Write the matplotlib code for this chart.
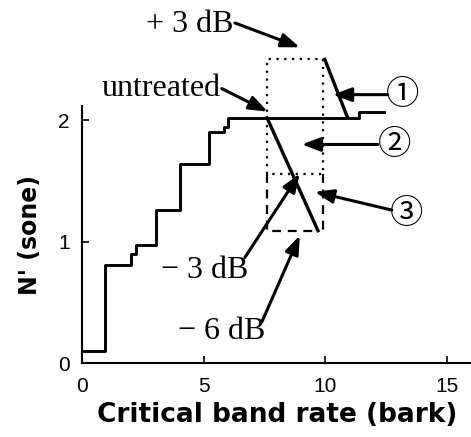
import numpy as np
import matplotlib.pyplot as plt

plt.close("all")

serif = "Liberation Serif"
circ_fonts = ["Noto Sans CJK JP", "DejaVu Sans"]

#%%
# 特定響度階梯 (untreated)
stair_x = [0, 0.95, 2.0, 2.2, 3.05, 4.0, 5.2, 5.85, 6.0, 11.4, 12.4]
stair_y = [0.10, 0.81, 0.90, 0.97, 1.26, 1.64, 1.90, 1.94, 2.02, 2.07, 2.07]

# 處理後的斜線
plus3_x = [9.98, 10.9]
plus3_y = [2.50, 2.03]
minus_x = [7.6, 9.7]
minus_y = [2.02, 1.09]

# 虛線框
dot_x = [7.6, 7.6, 9.9, 9.9, 7.6]
dot_y = [1.56, 2.50, 2.50, 1.56, 1.56]
dash_left_x = [7.6, 7.6, 9.7]
dash_left_y = [1.56, 1.09, 1.09]
dash_right_x = [9.9, 9.9]
dash_right_y = [1.56, 1.09]

xticks = [0, 5, 10, 15]
yticks = [0, 1, 2]

#%%
fig = plt.figure(figsize=(4.71, 4.37), dpi=100)
ax = fig.add_axes([0.175, 0.169, 0.825, 0.588])

ax.plot(stair_x, stair_y, drawstyle="steps-post", color="black", linewidth=2.1)
ax.plot(plus3_x, plus3_y, color="black", linewidth=2.4, clip_on=False)
ax.plot(minus_x, minus_y, color="black", linewidth=2.4)
ax.plot(dot_x, dot_y, color="black", linestyle=(0, (1, 2.5)), linewidth=1.6,
        clip_on=False)
ax.plot(dash_left_x, dash_left_y, color="black", linestyle=(0, (4, 3)), linewidth=1.6)
ax.plot(dash_right_x, dash_right_y, color="black", linestyle=(0, (4, 3)), linewidth=1.6)

ax.set_xlim(0, 16)
ax.set_ylim(0, 2.115)
ax.set_xticks(xticks)
ax.set_yticks(yticks)
ax.spines["top"].set_visible(False)
ax.spines["right"].set_visible(False)
ax.spines["left"].set_linewidth(1.5)
ax.spines["bottom"].set_linewidth(1.5)
ax.tick_params(direction="in", length=5, width=1.2, labelsize=15)
ax.tick_params(axis="x", pad=10)
ax.tick_params(axis="y", pad=9)
for lab in ax.get_xticklabels() + ax.get_yticklabels():
    lab.set_fontfamily("Liberation Sans")

ax.set_xlabel("Critical band rate (bark)", fontfamily="DejaVu Sans",
              fontweight="bold", fontsize=19, labelpad=4)
ax.set_ylabel("N' (sone)", fontfamily="DejaVu Sans",
              fontweight="bold", fontsize=17, labelpad=12)

#%%
# 文字與箭頭
arrow = dict(arrowstyle="-|>,head_length=0.8,head_width=0.3",
             color="black", linewidth=2.2, mutation_scale=14,
             shrinkA=0, shrinkB=0)

labels = [
    ("+ 3 dB", (4.42, 2.79), (6.28, 2.80), (8.95, 2.60), serif, 23),
    ("untreated", (3.23, 2.26), (5.74, 2.26), (7.63, 2.07), serif, 23),
    ("\u2460", (13.19, 2.21), (12.57, 2.21), (10.31, 2.21), circ_fonts, 24),
    ("\u2461", (12.86, 1.80), (12.16, 1.80), (9.03, 1.80), circ_fonts, 24),
    ("\u2462", (13.35, 1.23), (12.74, 1.26), (9.57, 1.41), circ_fonts, 24),
    ("\u2212 3 dB", (5.04, 0.76), (6.69, 0.87), (8.95, 1.56), serif, 23),
    ("\u2212 6 dB", (5.74, 0.26), (7.39, 0.34), (8.95, 1.05), serif, 23),
]

for text, pos, tail, tip, fam, size in labels:
    ax.annotate("", xy=tip, xytext=tail, arrowprops=arrow, annotation_clip=False)
    ax.text(pos[0], pos[1], text, ha="center", va="center",
            fontfamily=fam, fontsize=size, clip_on=False)

plt.savefig("out.png", dpi=100)
